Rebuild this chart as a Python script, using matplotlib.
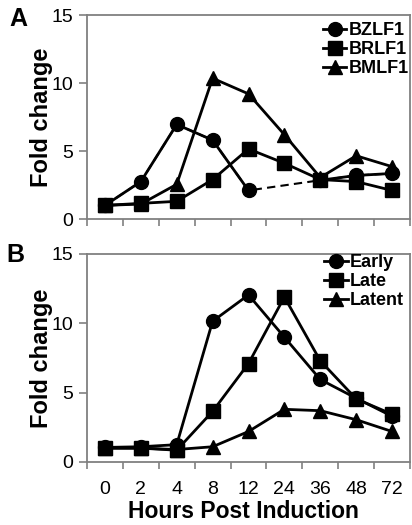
import numpy as np
import matplotlib
matplotlib.use("Agg")
import matplotlib.pyplot as plt

plt.rcParams['font.family'] = ['Liberation Sans', 'DejaVu Sans']

hours = ['0', '2', '4', '8', '12', '24', '36', '48', '72']

# panel A
bzlf1 = [1.0, 2.75, 6.95, 5.8, 2.1, np.nan, 2.85, 3.2, 3.35]
brlf1 = [1.0, 1.15, 1.3, 2.9, 5.15, 4.1, 2.9, 2.75, 2.1]
bmlf1 = [1.0, 1.1, 2.55, 10.35, 9.2, 6.2, 3.05, 4.65, 3.85]

# panel B
early = [1.05, 1.1, 1.25, 10.15, 12.05, 9.0, 5.95, 4.6, 3.3]
late = [1.0, 1.0, 0.85, 3.65, 7.1, 11.9, 7.3, 4.55, 3.45]
latent = [1.0, 1.0, 0.9, 1.1, 2.2, 3.8, 3.7, 3.05, 2.2]

W, H = 412, 525
fig = plt.figure(figsize=(W / 100, H / 100), dpi=100)


def make_axes(top, bottom):
    ax = fig.add_axes([87 / W, 1 - bottom / H, (410 - 87) / W, (bottom - top) / H])
    x = np.arange(len(hours))
    ax.set_xlim(-0.5, len(hours) - 0.5)
    ax.set_ylim(0, 15)
    ax.set_yticks([0, 5, 10, 15])
    ax.set_xticks(x)
    ax.set_xticks(np.arange(len(hours) + 1) - 0.5, minor=True)
    ax.tick_params(axis='x', which='major', length=0, labelsize=14, pad=14)
    ax.tick_params(axis='x', which='minor', length=5, direction='out', width=1.2,
                   color='#808080')
    ax.tick_params(axis='y', length=6, width=1.2, labelsize=14, pad=4,
                   color='#808080')
    for s in ax.spines.values():
        s.set_color('#808080')
        s.set_linewidth(1.3)
    ax.set_ylabel('Fold change', fontsize=17, fontweight='bold', labelpad=-1)
    return ax, x


style = dict(color='black', lw=2, markersize=10, clip_on=False)
leg = dict(loc='upper right', frameon=False, handlelength=1.3, handletextpad=0.1,
           labelspacing=0.12, borderaxespad=0.0, borderpad=0.0,
           prop={'weight': 'bold', 'size': 13})

axA, x = make_axes(15, 219)
b = np.array(bzlf1)
ok = ~np.isnan(b)
axA.plot(x[ok], b[ok], color='black', lw=1.5, ls=(0, (4, 2.5)), zorder=2)
axA.plot(x, bzlf1, marker='o', label='BZLF1', zorder=3, **style)
axA.plot(x, brlf1, marker='s', label='BRLF1', zorder=3, **style)
axA.plot(x, bmlf1, marker='^', label='BMLF1', zorder=3, **style)
axA.set_xticklabels([])
axA.legend(bbox_to_anchor=(0.995, 0.965), **leg)
fig.text(9 / W, 1 - 19 / H, 'A', fontsize=18, fontweight='bold', va='center')

axB, x = make_axes(254, 462)
axB.plot(x, early, marker='o', label='Early', zorder=3, **style)
axB.plot(x, late, marker='s', label='Late', zorder=3, **style)
axB.plot(x, latent, marker='^', label='Latent', zorder=3, **style)
axB.set_xticklabels(hours)
axB.legend(bbox_to_anchor=(0.98, 1.0), **leg)
fig.text(243 / W, 1 - 517.5 / H, 'Hours Post Induction', fontsize=16.5,
         fontweight='bold', ha='center', va='baseline')
fig.text(6 / W, 1 - 255 / H, 'B', fontsize=18, fontweight='bold', va='center')

fig.savefig('out.png', dpi=100)
